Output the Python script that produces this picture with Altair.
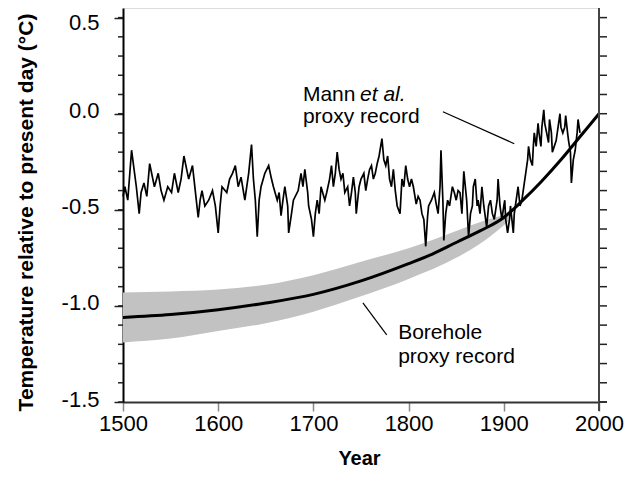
import altair as alt
import pandas as pd

# ---------------- data ----------------
mann_years = [1500, 1502, 1505, 1509, 1514, 1517, 1519, 1522, 1525, 1528, 1533, 1537, 1540, 1543, 1547, 1551,
              1554, 1558, 1561, 1564, 1569, 1573, 1577, 1579, 1581, 1583, 1586, 1590, 1594, 1597, 1600, 1602,
              1604, 1609, 1612, 1615, 1618, 1621, 1624, 1628, 1630, 1632, 1635, 1637, 1639, 1641, 1643, 1645,
              1649, 1653, 1656, 1658, 1662, 1664, 1666, 1668, 1670, 1673, 1674, 1677, 1679, 1684, 1687, 1689,
              1691, 1694, 1695, 1698, 1700, 1702, 1704, 1706, 1708, 1712, 1714, 1717, 1719, 1721, 1723, 1725,
              1727, 1729, 1731, 1733, 1736, 1738, 1740, 1742, 1744, 1745, 1748, 1750, 1753, 1755, 1757, 1759,
              1761, 1763, 1765, 1767, 1769, 1772, 1774, 1776, 1778, 1780, 1782, 1784, 1786, 1788, 1791, 1793,
              1795, 1797, 1799, 1801, 1803, 1805, 1808, 1810, 1812, 1814, 1816, 1818, 1820, 1821, 1824, 1827,
              1829, 1831, 1833, 1834, 1836, 1837, 1839, 1841, 1843, 1846, 1848, 1850, 1852, 1854, 1856, 1858,
              1861, 1863, 1865, 1867, 1868, 1870, 1872, 1873, 1875, 1877, 1879, 1882, 1884, 1886, 1888, 1890,
              1893, 1894, 1896, 1898, 1900, 1901, 1902, 1904, 1906, 1907, 1910, 1911, 1913, 1915, 1917, 1919,
              1921, 1923, 1925, 1926, 1928, 1930, 1931, 1932, 1934, 1936, 1937, 1939, 1940, 1942, 1943, 1945,
              1947, 1948, 1950, 1951, 1953, 1955, 1957, 1959, 1960, 1962, 1964, 1965, 1967, 1968, 1970, 1971,
              1973, 1975, 1977, 1978, 1980]
mann_temp = [-0.43, -0.38, -0.45, -0.19, -0.38, -0.52, -0.41, -0.36, -0.43, -0.26, -0.38, -0.31, -0.40, -0.45, -0.38, -0.41,
             -0.31, -0.41, -0.34, -0.22, -0.34, -0.27, -0.45, -0.54, -0.45, -0.40, -0.48, -0.45, -0.40, -0.48, -0.62, -0.48,
             -0.38, -0.41, -0.34, -0.31, -0.27, -0.38, -0.33, -0.45, -0.38, -0.31, -0.16, -0.34, -0.45, -0.64, -0.45, -0.38,
             -0.31, -0.27, -0.34, -0.38, -0.45, -0.41, -0.53, -0.45, -0.38, -0.48, -0.62, -0.52, -0.45, -0.40, -0.31, -0.38,
             -0.29, -0.41, -0.48, -0.55, -0.64, -0.52, -0.45, -0.52, -0.38, -0.45, -0.41, -0.34, -0.27, -0.38, -0.31, -0.20,
             -0.29, -0.34, -0.31, -0.41, -0.38, -0.48, -0.41, -0.33, -0.41, -0.52, -0.38, -0.34, -0.31, -0.40, -0.34, -0.29,
             -0.27, -0.34, -0.31, -0.26, -0.22, -0.13, -0.24, -0.27, -0.22, -0.34, -0.38, -0.29, -0.40, -0.48, -0.52, -0.34,
             -0.38, -0.27, -0.34, -0.38, -0.34, -0.38, -0.47, -0.43, -0.45, -0.52, -0.55, -0.69, -0.53, -0.48, -0.45, -0.41,
             -0.47, -0.52, -0.38, -0.19, -0.45, -0.66, -0.52, -0.45, -0.48, -0.38, -0.41, -0.45, -0.40, -0.41, -0.52, -0.30,
             -0.45, -0.64, -0.52, -0.48, -0.38, -0.34, -0.48, -0.45, -0.52, -0.38, -0.48, -0.59, -0.48, -0.45, -0.52, -0.55,
             -0.45, -0.34, -0.48, -0.55, -0.48, -0.45, -0.55, -0.62, -0.55, -0.48, -0.62, -0.52, -0.45, -0.38, -0.48, -0.45,
             -0.38, -0.31, -0.24, -0.17, -0.24, -0.27, -0.17, -0.10, -0.17, -0.05, -0.10, -0.17, -0.07, 0.02, -0.05, -0.10,
             -0.15, -0.03, -0.10, -0.20, -0.17, -0.14, -0.07, 0.00, -0.07, -0.10, -0.07, -0.01, -0.10, -0.14, -0.20, -0.36,
             -0.24, -0.19, -0.10, -0.03, -0.10]

bh_years = [1500, 1550, 1600, 1650, 1700, 1750, 1800, 1825, 1850, 1875, 1900, 1920, 1940, 1960, 1980, 2000]
bh_temp = [-1.06, -1.045, -1.02, -0.985, -0.94, -0.87, -0.78, -0.73, -0.67, -0.61, -0.54, -0.45, -0.35, -0.24, -0.12, 0.0]

band_years = [1500, 1550, 1600, 1650, 1700, 1750, 1800, 1850, 1880, 1905]
band_upper = [-0.93, -0.925, -0.915, -0.89, -0.84, -0.77, -0.70, -0.61, -0.555, -0.52]
band_lower = [-1.19, -1.17, -1.13, -1.09, -1.03, -0.95, -0.86, -0.75, -0.66, -0.56]

x_ticks = [1500, 1600, 1700, 1800, 1900, 2000]
y_major = [-1.5, -1.0, -0.5, 0.0, 0.5]
y_minor = [-1.5, -1.4, -1.3, -1.2, -1.1, -1.0, -0.9, -0.8, -0.7, -0.6, -0.5, -0.4, -0.3, -0.2, -0.1,
           0.0, 0.1, 0.2, 0.3, 0.4, 0.5]

ann_text = ["Mann", "proxy record", "Borehole", "proxy record"]
ann_year = [1689, 1689, 1789, 1789]
ann_temp = [0.068, -0.047, -1.172, -1.297]
ital_text = ["et al."]
ital_year = [1749]
ital_temp = [0.068]

lead_x1 = [1836, 1752]
lead_y1 = [0.01, -0.984]
lead_x2 = [1911, 1777]
lead_y2 = [-0.156, -1.151]

# ---------------- chart ----------------
W, H = 476, 394
FONT = "Liberation Sans"

xscale = alt.Scale(domain=[1500, 2000], nice=False, zero=False)
yscale = alt.Scale(domain=[-1.5, 0.55], nice=False, zero=False)

xaxis = alt.Axis(values=x_ticks, format="d", title="Year", grid=False,
                 labelFont=FONT, labelFontSize=22, labelColor="black", labelPadding=2,
                 labelFlush=False, tickSize=9, tickColor="#888888", tickWidth=1.5,
                 domainColor="#333333", domainWidth=2,
                 titleFont=FONT, titleFontSize=20, titleFontWeight="bold", titleColor="black",
                 titleX=236, titleY=62, titleBaseline="alphabetic", titleAlign="center")
yaxis = alt.Axis(values=y_major, format=".1f", title="Temperature relative to present day (°C)",
                 grid=False, labelExpr="replace(datum.label, '\u2212', '-')",
                 labelFont=FONT, labelFontSize=22, labelColor="black", labelPadding=15,
                 labelOffset={"condition": {"test": "datum.value > 0.4", "value": 5}, "value": -3},
                 labelFlush=False, labelBaseline="middle",
                 tickSize=9, tickColor="#222222", tickWidth=1.5,
                 domainColor="black", domainWidth=2,
                 titleFont=FONT, titleFontSize=21, titleFontWeight="bold", titleColor="black",
                 titleAngle=270, titleX=-91, titleY=204, titleBaseline="alphabetic", titleAlign="center")


def X(f):
    return alt.X(f, type="quantitative", scale=xscale, axis=xaxis)


def Y(f):
    return alt.Y(f, type="quantitative", scale=yscale, axis=yaxis)


mann_df = pd.DataFrame({"year": mann_years, "t": mann_temp})
bh_df = pd.DataFrame({"year": bh_years, "t": bh_temp})
band_df = pd.DataFrame({"year": band_years, "up": band_upper, "lo": band_lower})
minor_df = pd.DataFrame({"t": y_minor})
ann_df = pd.DataFrame({"year": ann_year, "t": ann_temp, "txt": ann_text})
ital_df = pd.DataFrame({"year": ital_year, "t": ital_temp, "txt": ital_text})
lead_df = pd.DataFrame({"x1": lead_x1, "y1": lead_y1, "x2": lead_x2, "y2": lead_y2})

band = alt.Chart(band_df).mark_area(color="#c2c2c2", interpolate="monotone").encode(
    x=X("year"), y=Y("up"), y2="lo")
bh_line = alt.Chart(bh_df).mark_line(color="black", strokeWidth=3, interpolate="monotone").encode(
    x=X("year"), y=Y("t"))
mann_line = alt.Chart(mann_df).mark_line(color="black", strokeWidth=1.7).encode(
    x=X("year"), y=Y("t"))

left_minor = alt.Chart(minor_df).mark_rule(color="#222222", strokeWidth=1.5).encode(
    x=alt.value(-5), x2=alt.value(0), y=Y("t"))
right_minor = alt.Chart(minor_df).mark_rule(color="#222222", strokeWidth=1.5).encode(
    x=alt.value(W), x2=alt.value(W + 8), y=Y("t"))
right_axis = alt.Chart(minor_df).mark_rule(color="#444444", strokeWidth=2).encode(
    x=alt.value(W), y=alt.value(0), y2=alt.value(H + 9))
x_ext = alt.Chart(minor_df).mark_rule(color="#333333", strokeWidth=2).encode(
    x=alt.value(W), x2=alt.value(W + 8), y=alt.value(H))

ann = alt.Chart(ann_df).mark_text(align="left", baseline="alphabetic", font=FONT, fontSize=21,
                                  color="black").encode(x=X("year"), y=Y("t"), text="txt:N")
ital = alt.Chart(ital_df).mark_text(align="left", baseline="alphabetic", font=FONT, fontSize=21,
                                    fontStyle="italic", color="black").encode(
    x=X("year"), y=Y("t"), text="txt:N")
leaders = alt.Chart(lead_df).mark_rule(color="black", strokeWidth=1.2).encode(
    x=X("x1"), y=Y("y1"), x2="x2", y2="y2")

chart = alt.layer(band, bh_line, mann_line, left_minor, right_minor, right_axis, x_ext,
                  leaders, ann, ital).properties(
    width=W, height=H,
    autosize=alt.AutoSizeParams(type="none"),
    padding={"left": 115, "top": 0, "right": 25, "bottom": 66},
).configure_view(stroke=None).configure(background="white")

chart.save("out.html", embed_options={"renderer": "svg", "actions": False})
